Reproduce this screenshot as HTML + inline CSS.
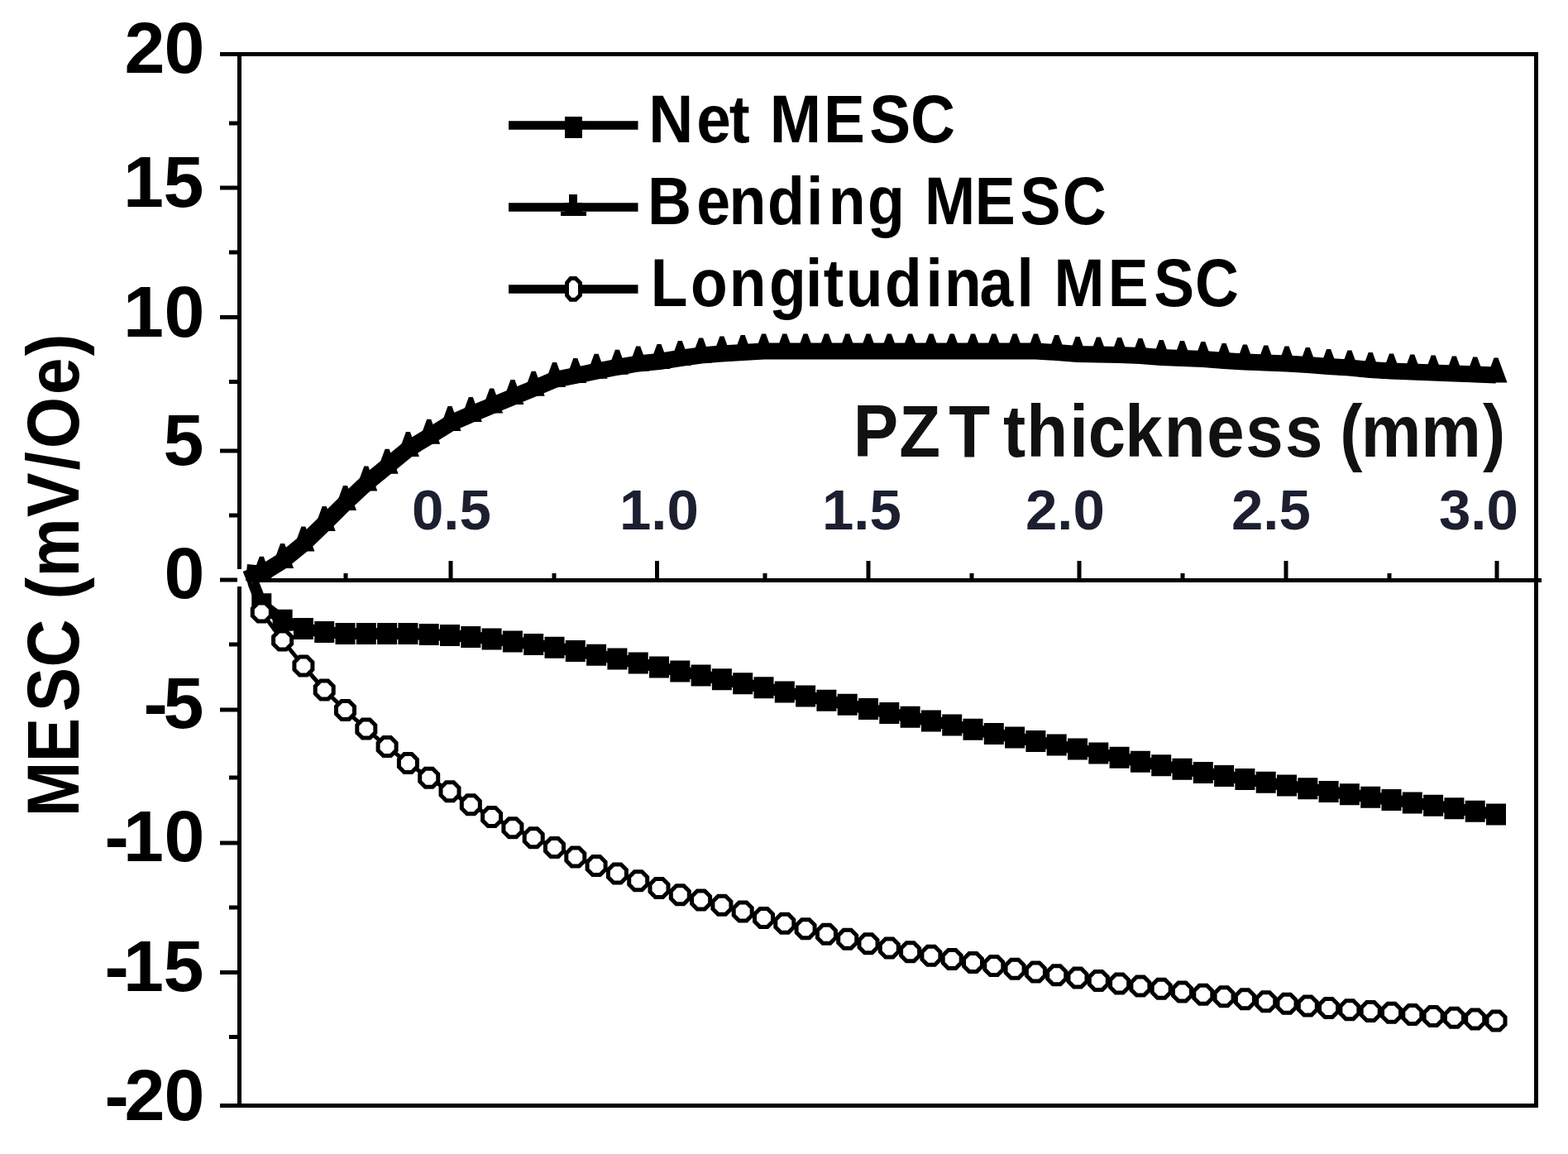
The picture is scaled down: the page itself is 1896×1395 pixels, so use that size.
<!DOCTYPE html>
<html><head><meta charset="utf-8"><title>MESC vs PZT thickness</title>
<style>
html,body{margin:0;padding:0;background:#fff;}
body{width:1896px;height:1395px;overflow:hidden;}
svg{display:block;}
text{font-family:"Liberation Sans",Arial,sans-serif;font-weight:bold;}
</style></head><body>
<svg width="1896" height="1395" viewBox="0 0 1896 1395">
<rect width="1896" height="1395" fill="#fff"/>
<!-- frame -->
<path d="M266,65.5H1857.5V1336.5H266M289.5,65.5V1336.5" stroke="#000" stroke-width="5" fill="none" stroke-linejoin="miter"/>
<path d="M289.5,701.5H1864" stroke="#000" stroke-width="5" fill="none"/>
<path d="M266,65.5H290M266,227H290M266,383.5H290M266,545H290M266,701H290M266,858H290M266,1019H290M266,1175.5H290M266,1336.5H290M277,149H290M277,305H290M277,461.5H290M277,623H290M277,779H290M277,940H290M277,1097H290M277,1253.6H290M545,678V702M794.5,678V702M1050,678V702M1305,678V702M1555,678V702M1810,678V702M418,693V702M670,693V702M925,693V702M1175,693V702M1430,693V702M1680,693V702" stroke="#000" stroke-width="5" fill="none"/>
<!-- y tick labels -->
<g font-size="88" fill="#000"><text x="150.5 198.5" y="88">20</text><text x="149.0 197.5" y="249.5">15</text><text x="149.0 198.5" y="407">10</text><text x="197.5" y="562">5</text><text x="198.5" y="722.5">0</text><text x="173.5 197.5" y="880">-5</text><text x="126.5 149.0 198.5" y="1041">-10</text><text x="126.5 149.0 197.5" y="1198">-15</text><text x="126.5 150.5 198.5" y="1354">-20</text></g>
<!-- x tick labels -->
<g font-size="69" fill="#1b1f30"><text x="498" y="640">0.5</text><text x="749" y="640">1.0</text><text x="994" y="640">1.5</text><text x="1240" y="640">2.0</text><text x="1489" y="640">2.5</text><text x="1740" y="640">3.0</text></g>
<!-- axis titles -->
<text transform="translate(0.0,0) scale(0.9176,1)" x="1124.3 1185.0 1250.3 1304.6 1321.9 1352.6 1409.5 1433.9 1482.5 1534.1 1590.4 1641.5 1693.5 1743.0 1765.8 1793.5 1872.6 1953.9" y="552" font-size="89" fill="#111">PZT thickness (mm)</text>
<text transform="translate(94.5,984) rotate(-90) scale(0.9000,1)" x="-3.7 69.7 137.4 197.1 261.4 288.3 318.3 399.0 461.8 490.9 563.3 615.3" y="0" font-size="89">MESC (mV/Oe)</text>
<!-- legend -->
<g stroke="#000" stroke-width="10.5" fill="none"><path d="M615,151.5H771.5M615,250.5H771.5M615,349.5H771.5"/></g>
<rect x="683" y="141" width="21" height="26" fill="#000"/>
<path d="M688,235H698V245H704V256H709V261H678V256H683V245H688Z" fill="#000"/>
<path d="M690,336.5H696L701.5,342V357L696,362.2H690L685.5,357V342Z" fill="#fff" stroke="#000" stroke-width="5"/>
<g fill="#000"><text transform="translate(0.0,0) scale(0.9231,1)" x="849.5 912.4 955.3 982.3 1008.3 1079.0 1138.9 1192.7" y="172" font-size="81">Net MESC</text><text transform="translate(0.0,0) scale(0.9075,1)" x="862.8 928.2 971.4 1022.6 1074.4 1103.9 1155.9 1205.4 1232.1 1298.9 1359.2 1415.8" y="271" font-size="81">Bending MESC</text><text transform="translate(0.0,0) scale(0.9037,1)" x="870.6 923.9 975.8 1029.1 1077.8 1101.8 1131.8 1184.1 1238.8 1263.7 1310.7 1360.4 1382.9 1410.4 1482.5 1543.9 1599.1" y="370" font-size="81">Longitudinal MESC</text></g>
<!-- data -->
<rect x="287" y="688" width="16" height="21" fill="#fff"/>
<polyline points="298.0,692.0 316.3,693.7 341.6,678.0 366.9,657.5 392.2,633.0 417.5,608.0 442.8,584.4 468.1,563.8 493.4,543.0 518.7,527.7 544.0,512.0 569.3,501.0 594.6,490.6 619.9,480.0 645.2,469.8 670.5,459.0 695.8,454.0 721.1,448.8 746.4,443.8 771.7,439.5 797.0,437.0 822.3,433.0 847.6,429.5 872.9,427.5 898.2,426.0 923.5,424.5 948.8,424.5 974.1,424.5 999.4,424.5 1024.7,424.5 1050.0,424.5 1075.3,424.5 1100.6,424.5 1125.9,424.5 1151.2,424.5 1176.5,424.5 1201.8,424.5 1227.1,424.5 1252.4,424.5 1277.7,426.0 1303.0,428.0 1328.3,428.5 1353.6,429.0 1378.9,430.0 1404.2,432.0 1429.5,433.0 1454.8,434.0 1480.1,436.0 1505.4,437.5 1530.7,438.5 1556.0,439.5 1581.3,441.0 1606.6,443.0 1631.9,444.5 1657.2,447.0 1682.5,448.5 1707.8,449.5 1733.1,450.5 1758.4,451.5 1783.7,452.5 1809.0,453.5" fill="none" stroke="#000" stroke-width="20" stroke-linejoin="round"/>
<path d="M313.8,672.7H318.8L329.8,702.7H302.8ZM339.1,657.0H344.1L355.1,687.0H328.1ZM364.4,636.5H369.4L380.4,666.5H353.4ZM389.7,612.0H394.7L405.7,642.0H378.7ZM415.0,587.0H420.0L431.0,617.0H404.0ZM440.3,563.4H445.3L456.3,593.4H429.3ZM465.6,542.8H470.6L481.6,572.8H454.6ZM490.9,522.0H495.9L506.9,552.0H479.9ZM516.2,506.7H521.2L532.2,536.7H505.2ZM541.5,491.0H546.5L557.5,521.0H530.5ZM566.8,480.0H571.8L582.8,510.0H555.8ZM592.1,469.6H597.1L608.1,499.6H581.1ZM617.4,459.0H622.4L633.4,489.0H606.4ZM642.7,448.8H647.7L658.7,478.8H631.7ZM668.0,438.0H673.0L684.0,468.0H657.0ZM693.3,433.0H698.3L709.3,463.0H682.3ZM718.6,427.8H723.6L734.6,457.8H707.6ZM743.9,422.8H748.9L759.9,452.8H732.9ZM769.2,418.5H774.2L785.2,448.5H758.2ZM794.5,416.0H799.5L810.5,446.0H783.5ZM819.8,412.0H824.8L835.8,442.0H808.8ZM845.1,408.5H850.1L861.1,438.5H834.1ZM870.4,406.5H875.4L886.4,436.5H859.4ZM895.7,405.0H900.7L911.7,435.0H884.7ZM921.0,403.5H926.0L937.0,433.5H910.0ZM946.3,403.5H951.3L962.3,433.5H935.3ZM971.6,403.5H976.6L987.6,433.5H960.6ZM996.9,403.5H1001.9L1012.9,433.5H985.9ZM1022.2,403.5H1027.2L1038.2,433.5H1011.2ZM1047.5,403.5H1052.5L1063.5,433.5H1036.5ZM1072.8,403.5H1077.8L1088.8,433.5H1061.8ZM1098.1,403.5H1103.1L1114.1,433.5H1087.1ZM1123.4,403.5H1128.4L1139.4,433.5H1112.4ZM1148.7,403.5H1153.7L1164.7,433.5H1137.7ZM1174.0,403.5H1179.0L1190.0,433.5H1163.0ZM1199.3,403.5H1204.3L1215.3,433.5H1188.3ZM1224.6,403.5H1229.6L1240.6,433.5H1213.6ZM1249.9,403.5H1254.9L1265.9,433.5H1238.9ZM1275.2,405.0H1280.2L1291.2,435.0H1264.2ZM1300.5,407.0H1305.5L1316.5,437.0H1289.5ZM1325.8,407.5H1330.8L1341.8,437.5H1314.8ZM1351.1,408.0H1356.1L1367.1,438.0H1340.1ZM1376.4,409.0H1381.4L1392.4,439.0H1365.4ZM1401.7,411.0H1406.7L1417.7,441.0H1390.7ZM1427.0,412.0H1432.0L1443.0,442.0H1416.0ZM1452.3,413.0H1457.3L1468.3,443.0H1441.3ZM1477.6,415.0H1482.6L1493.6,445.0H1466.6ZM1502.9,416.5H1507.9L1518.9,446.5H1491.9ZM1528.2,417.5H1533.2L1544.2,447.5H1517.2ZM1553.5,418.5H1558.5L1569.5,448.5H1542.5ZM1578.8,420.0H1583.8L1594.8,450.0H1567.8ZM1604.1,422.0H1609.1L1620.1,452.0H1593.1ZM1629.4,423.5H1634.4L1645.4,453.5H1618.4ZM1654.7,426.0H1659.7L1670.7,456.0H1643.7ZM1680.0,427.5H1685.0L1696.0,457.5H1669.0ZM1705.3,428.5H1710.3L1721.3,458.5H1694.3ZM1730.6,429.5H1735.6L1746.6,459.5H1719.6ZM1755.9,430.5H1760.9L1771.9,460.5H1744.9ZM1781.2,431.5H1786.2L1797.2,461.5H1770.2ZM1806.5,432.5H1811.5L1822.5,462.5H1795.5Z" fill="#000"/>
<polyline points="306.0,704.0 316.3,730.3 341.6,749.8 366.9,760.0 392.2,764.0 417.5,766.0 442.8,766.0 468.1,766.0 493.4,766.0 518.7,767.0 544.0,768.0 569.3,769.9 594.6,772.5 619.9,775.6 645.2,779.1 670.5,782.8 695.8,787.0 721.1,791.7 746.4,796.6 771.7,801.5 797.0,806.5 822.3,811.5 847.6,816.4 872.9,821.3 898.2,826.3 923.5,831.3 948.8,836.4 974.1,841.6 999.4,846.7 1024.7,851.8 1050.0,856.9 1075.3,861.9 1100.6,866.8 1125.9,871.6 1151.2,876.5 1176.5,881.8 1201.8,886.9 1227.1,891.6 1252.4,896.1 1277.7,900.6 1303.0,905.5 1328.3,910.6 1353.6,915.8 1378.9,920.7 1404.2,925.3 1429.5,929.7 1454.8,933.9 1480.1,938.0 1505.4,941.9 1530.7,945.8 1556.0,949.6 1581.3,953.3 1606.6,956.9 1631.9,960.3 1657.2,963.7 1682.5,967.0 1707.8,970.4 1733.1,973.8 1758.4,977.3 1783.7,980.8 1809.0,984.4" fill="none" stroke="#000" stroke-width="14" stroke-linejoin="round"/>
<path d="M304.3,717.3h24v26h-24ZM329.6,736.8h24v26h-24ZM354.9,747.0h24v26h-24ZM380.2,751.0h24v26h-24ZM405.5,753.0h24v26h-24ZM430.8,753.0h24v26h-24ZM456.1,753.0h24v26h-24ZM481.4,753.0h24v26h-24ZM506.7,754.0h24v26h-24ZM532.0,755.0h24v26h-24ZM557.3,756.9h24v26h-24ZM582.6,759.5h24v26h-24ZM607.9,762.6h24v26h-24ZM633.2,766.1h24v26h-24ZM658.5,769.8h24v26h-24ZM683.8,774.0h24v26h-24ZM709.1,778.7h24v26h-24ZM734.4,783.6h24v26h-24ZM759.7,788.5h24v26h-24ZM785.0,793.5h24v26h-24ZM810.3,798.5h24v26h-24ZM835.6,803.4h24v26h-24ZM860.9,808.3h24v26h-24ZM886.2,813.3h24v26h-24ZM911.5,818.3h24v26h-24ZM936.8,823.4h24v26h-24ZM962.1,828.6h24v26h-24ZM987.4,833.7h24v26h-24ZM1012.7,838.8h24v26h-24ZM1038.0,843.9h24v26h-24ZM1063.3,848.9h24v26h-24ZM1088.6,853.8h24v26h-24ZM1113.9,858.6h24v26h-24ZM1139.2,863.5h24v26h-24ZM1164.5,868.8h24v26h-24ZM1189.8,873.9h24v26h-24ZM1215.1,878.6h24v26h-24ZM1240.4,883.1h24v26h-24ZM1265.7,887.6h24v26h-24ZM1291.0,892.5h24v26h-24ZM1316.3,897.6h24v26h-24ZM1341.6,902.8h24v26h-24ZM1366.9,907.7h24v26h-24ZM1392.2,912.3h24v26h-24ZM1417.5,916.7h24v26h-24ZM1442.8,920.9h24v26h-24ZM1468.1,925.0h24v26h-24ZM1493.4,928.9h24v26h-24ZM1518.7,932.8h24v26h-24ZM1544.0,936.6h24v26h-24ZM1569.3,940.3h24v26h-24ZM1594.6,943.9h24v26h-24ZM1619.9,947.3h24v26h-24ZM1645.2,950.7h24v26h-24ZM1670.5,954.0h24v26h-24ZM1695.8,957.4h24v26h-24ZM1721.1,960.8h24v26h-24ZM1746.4,964.3h24v26h-24ZM1771.7,967.8h24v26h-24ZM1797.0,971.4h24v26h-24Z" fill="#000"/>
<polyline points="296.0,690.0 316.3,740.0 341.6,774.0 366.9,805.0 392.2,834.0 417.5,858.5 442.8,881.1 468.1,902.6 493.4,922.5 518.7,940.2 544.0,956.8 569.3,972.8 594.6,987.5 619.9,1000.8 645.2,1012.8 670.5,1024.5 695.8,1036.0 721.1,1046.5 746.4,1056.0 771.7,1064.8 797.0,1073.5 822.3,1081.8 847.6,1088.0 872.9,1094.2 898.2,1102.0 923.5,1109.5 948.8,1116.2 974.1,1122.8 999.4,1129.2 1024.7,1135.2 1050.0,1140.8 1075.3,1146.0 1100.6,1150.8 1125.9,1155.2 1151.2,1159.5 1176.5,1163.5 1201.8,1167.5 1227.1,1171.2 1252.4,1175.0 1277.7,1178.8 1303.0,1182.0 1328.3,1185.4 1353.6,1189.0 1378.9,1192.1 1404.2,1195.2 1429.5,1199.0 1454.8,1202.2 1480.1,1204.8 1505.4,1207.8 1530.7,1210.8 1556.0,1213.2 1581.3,1215.9 1606.6,1218.5 1631.9,1220.8 1657.2,1222.5 1682.5,1224.2 1707.8,1226.5 1733.1,1228.6 1758.4,1230.2 1783.7,1232.0 1809.0,1234.0" fill="none" stroke="#000" stroke-width="5" stroke-linejoin="round"/>
<g fill="#fff" stroke="#000" stroke-width="5"><path d="M311.8,729.0h9l6.5,6.5v9l-6.5,6.5h-9l-6.5,-6.5v-9z"/><path d="M337.1,763.0h9l6.5,6.5v9l-6.5,6.5h-9l-6.5,-6.5v-9z"/><path d="M362.4,794.0h9l6.5,6.5v9l-6.5,6.5h-9l-6.5,-6.5v-9z"/><path d="M387.7,823.0h9l6.5,6.5v9l-6.5,6.5h-9l-6.5,-6.5v-9z"/><path d="M413.0,847.5h9l6.5,6.5v9l-6.5,6.5h-9l-6.5,-6.5v-9z"/><path d="M438.3,870.1h9l6.5,6.5v9l-6.5,6.5h-9l-6.5,-6.5v-9z"/><path d="M463.6,891.6h9l6.5,6.5v9l-6.5,6.5h-9l-6.5,-6.5v-9z"/><path d="M488.9,911.5h9l6.5,6.5v9l-6.5,6.5h-9l-6.5,-6.5v-9z"/><path d="M514.2,929.2h9l6.5,6.5v9l-6.5,6.5h-9l-6.5,-6.5v-9z"/><path d="M539.5,945.8h9l6.5,6.5v9l-6.5,6.5h-9l-6.5,-6.5v-9z"/><path d="M564.8,961.8h9l6.5,6.5v9l-6.5,6.5h-9l-6.5,-6.5v-9z"/><path d="M590.1,976.5h9l6.5,6.5v9l-6.5,6.5h-9l-6.5,-6.5v-9z"/><path d="M615.4,989.8h9l6.5,6.5v9l-6.5,6.5h-9l-6.5,-6.5v-9z"/><path d="M640.7,1001.8h9l6.5,6.5v9l-6.5,6.5h-9l-6.5,-6.5v-9z"/><path d="M666.0,1013.5h9l6.5,6.5v9l-6.5,6.5h-9l-6.5,-6.5v-9z"/><path d="M691.3,1025.0h9l6.5,6.5v9l-6.5,6.5h-9l-6.5,-6.5v-9z"/><path d="M716.6,1035.5h9l6.5,6.5v9l-6.5,6.5h-9l-6.5,-6.5v-9z"/><path d="M741.9,1045.0h9l6.5,6.5v9l-6.5,6.5h-9l-6.5,-6.5v-9z"/><path d="M767.2,1053.8h9l6.5,6.5v9l-6.5,6.5h-9l-6.5,-6.5v-9z"/><path d="M792.5,1062.5h9l6.5,6.5v9l-6.5,6.5h-9l-6.5,-6.5v-9z"/><path d="M817.8,1070.8h9l6.5,6.5v9l-6.5,6.5h-9l-6.5,-6.5v-9z"/><path d="M843.1,1077.0h9l6.5,6.5v9l-6.5,6.5h-9l-6.5,-6.5v-9z"/><path d="M868.4,1083.2h9l6.5,6.5v9l-6.5,6.5h-9l-6.5,-6.5v-9z"/><path d="M893.7,1091.0h9l6.5,6.5v9l-6.5,6.5h-9l-6.5,-6.5v-9z"/><path d="M919.0,1098.5h9l6.5,6.5v9l-6.5,6.5h-9l-6.5,-6.5v-9z"/><path d="M944.3,1105.2h9l6.5,6.5v9l-6.5,6.5h-9l-6.5,-6.5v-9z"/><path d="M969.6,1111.8h9l6.5,6.5v9l-6.5,6.5h-9l-6.5,-6.5v-9z"/><path d="M994.9,1118.2h9l6.5,6.5v9l-6.5,6.5h-9l-6.5,-6.5v-9z"/><path d="M1020.2,1124.2h9l6.5,6.5v9l-6.5,6.5h-9l-6.5,-6.5v-9z"/><path d="M1045.5,1129.8h9l6.5,6.5v9l-6.5,6.5h-9l-6.5,-6.5v-9z"/><path d="M1070.8,1135.0h9l6.5,6.5v9l-6.5,6.5h-9l-6.5,-6.5v-9z"/><path d="M1096.1,1139.8h9l6.5,6.5v9l-6.5,6.5h-9l-6.5,-6.5v-9z"/><path d="M1121.4,1144.2h9l6.5,6.5v9l-6.5,6.5h-9l-6.5,-6.5v-9z"/><path d="M1146.7,1148.5h9l6.5,6.5v9l-6.5,6.5h-9l-6.5,-6.5v-9z"/><path d="M1172.0,1152.5h9l6.5,6.5v9l-6.5,6.5h-9l-6.5,-6.5v-9z"/><path d="M1197.3,1156.5h9l6.5,6.5v9l-6.5,6.5h-9l-6.5,-6.5v-9z"/><path d="M1222.6,1160.2h9l6.5,6.5v9l-6.5,6.5h-9l-6.5,-6.5v-9z"/><path d="M1247.9,1164.0h9l6.5,6.5v9l-6.5,6.5h-9l-6.5,-6.5v-9z"/><path d="M1273.2,1167.8h9l6.5,6.5v9l-6.5,6.5h-9l-6.5,-6.5v-9z"/><path d="M1298.5,1171.0h9l6.5,6.5v9l-6.5,6.5h-9l-6.5,-6.5v-9z"/><path d="M1323.8,1174.4h9l6.5,6.5v9l-6.5,6.5h-9l-6.5,-6.5v-9z"/><path d="M1349.1,1178.0h9l6.5,6.5v9l-6.5,6.5h-9l-6.5,-6.5v-9z"/><path d="M1374.4,1181.1h9l6.5,6.5v9l-6.5,6.5h-9l-6.5,-6.5v-9z"/><path d="M1399.7,1184.2h9l6.5,6.5v9l-6.5,6.5h-9l-6.5,-6.5v-9z"/><path d="M1425.0,1188.0h9l6.5,6.5v9l-6.5,6.5h-9l-6.5,-6.5v-9z"/><path d="M1450.3,1191.2h9l6.5,6.5v9l-6.5,6.5h-9l-6.5,-6.5v-9z"/><path d="M1475.6,1193.8h9l6.5,6.5v9l-6.5,6.5h-9l-6.5,-6.5v-9z"/><path d="M1500.9,1196.8h9l6.5,6.5v9l-6.5,6.5h-9l-6.5,-6.5v-9z"/><path d="M1526.2,1199.8h9l6.5,6.5v9l-6.5,6.5h-9l-6.5,-6.5v-9z"/><path d="M1551.5,1202.2h9l6.5,6.5v9l-6.5,6.5h-9l-6.5,-6.5v-9z"/><path d="M1576.8,1204.9h9l6.5,6.5v9l-6.5,6.5h-9l-6.5,-6.5v-9z"/><path d="M1602.1,1207.5h9l6.5,6.5v9l-6.5,6.5h-9l-6.5,-6.5v-9z"/><path d="M1627.4,1209.8h9l6.5,6.5v9l-6.5,6.5h-9l-6.5,-6.5v-9z"/><path d="M1652.7,1211.5h9l6.5,6.5v9l-6.5,6.5h-9l-6.5,-6.5v-9z"/><path d="M1678.0,1213.2h9l6.5,6.5v9l-6.5,6.5h-9l-6.5,-6.5v-9z"/><path d="M1703.3,1215.5h9l6.5,6.5v9l-6.5,6.5h-9l-6.5,-6.5v-9z"/><path d="M1728.6,1217.6h9l6.5,6.5v9l-6.5,6.5h-9l-6.5,-6.5v-9z"/><path d="M1753.9,1219.2h9l6.5,6.5v9l-6.5,6.5h-9l-6.5,-6.5v-9z"/><path d="M1779.2,1221.0h9l6.5,6.5v9l-6.5,6.5h-9l-6.5,-6.5v-9z"/><path d="M1804.5,1223.0h9l6.5,6.5v9l-6.5,6.5h-9l-6.5,-6.5v-9z"/></g>
</svg>
</body></html>
